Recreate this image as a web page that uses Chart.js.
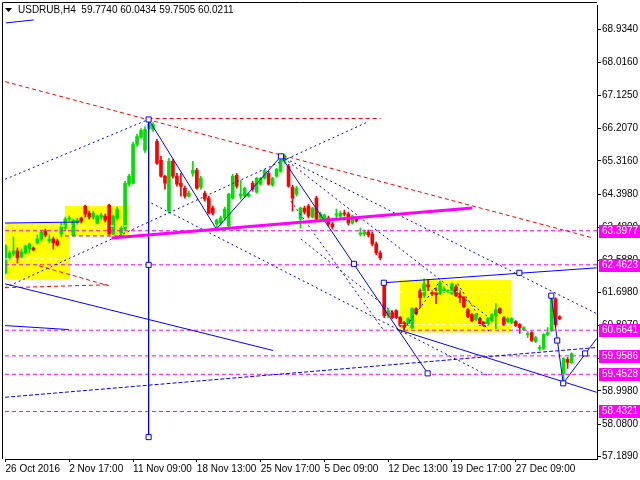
<!DOCTYPE html>
<html>
<head>
<meta charset="utf-8">
<script src="https://cdn.jsdelivr.net/npm/chart.js@4.4.0/dist/chart.umd.min.js"></script>
<style>
  html, body { margin: 0; padding: 0; background: #fff; }
  canvas { display: block; }
</style>
</head>
<body>
<canvas id="usdrubChart" width="640" height="480"></canvas>
<script>
// === Data: x = bar number (H4), y = price ===
const tickBars = [0, 16, 32, 48, 64, 80, 96, 112, 128];
const tickLabels = ['26 Oct 2016', '2 Nov 17:00', '11 Nov 09:00', '18 Nov 13:00', '25 Nov 17:00',
                    '5 Dec 09:00', '12 Dec 13:00', '19 Dec 17:00', '27 Dec 09:00'];
const priceTicks = [68.934, 68.016, 67.125, 66.207, 65.316, 64.398, 63.480, 62.588,
                    61.698, 60.807, 59.889, 58.998, 58.080, 57.189];

const opens = [62.241,62.652,62.761,62.843,62.679,62.788,62.898,62.925,63.062,63.171,
  63.390,63.116,63.171,63.116,63.308,63.472,63.718,63.280,63.636,63.746,
  64.074,63.882,63.773,63.609,63.773,63.800,64.101,63.308,63.746,63.335,
  63.445,64.676,64.703,65.769,65.961,65.605,66.207,66.180,65.852,65.332,
  64.895,63.937,65.304,64.895,64.703,64.566,64.348,64.976,65.058,64.594,
  64.430,64.293,64.019,63.581,63.609,63.746,63.527,64.293,64.922,64.348,
  64.348,64.348,64.703,64.457,64.676,64.840,64.976,64.649,64.895,65.031,
  65.304,65.168,64.594,64.402,63.718,64.019,64.074,63.773,64.293,63.746,
  63.718,63.746,63.581,63.828,63.800,63.882,63.855,63.609,63.718,63.308,
  63.308,63.363,63.308,63.034,62.788,61.968,61.065,61.147,61.202,61.011,
  60.874,60.819,60.737,61.257,61.749,61.612,61.913,61.694,61.694,61.667,
  61.722,61.722,61.667,61.858,61.612,61.558,61.229,61.093,60.956,60.983,
  60.874,60.819,60.928,61.065,61.257,61.011,60.901,60.874,60.901,60.819,
  60.682,60.545,60.600,60.354,60.162,60.162,60.545,60.655,61.530,61.038,
  59.479,59.861,59.774];
const highs = [63.007,62.843,63.226,62.925,62.898,63.007,63.062,62.952,63.280,63.417,
  63.445,63.280,63.226,63.171,63.609,63.773,63.800,63.718,63.746,63.773,
  64.101,63.937,63.937,63.828,63.882,63.855,64.128,63.828,64.046,63.527,
  64.758,64.949,65.824,66.043,66.207,66.262,66.454,66.372,65.906,65.441,
  64.922,65.387,65.359,64.976,64.976,64.621,64.484,65.304,65.113,64.895,
  64.484,64.348,64.074,63.718,63.800,64.046,64.430,64.949,64.976,64.785,
  64.594,64.430,64.758,64.867,64.867,65.086,65.031,64.867,65.113,65.359,
  65.496,65.222,64.649,64.621,64.046,64.074,64.128,64.046,64.348,63.910,
  63.855,63.800,63.636,63.992,63.937,63.964,63.910,63.828,63.746,63.472,
  63.417,63.417,63.363,63.089,62.843,62.023,61.257,61.202,61.229,61.038,
  60.901,61.011,61.284,61.284,61.804,62.077,62.050,61.749,61.831,61.995,
  61.858,61.776,61.968,61.913,61.749,61.585,61.257,61.120,61.120,61.011,
  60.901,61.011,61.120,61.394,61.284,61.038,61.011,61.011,60.928,60.846,
  60.764,60.627,60.627,60.491,60.244,60.573,60.737,61.612,61.558,61.065,
  59.916,59.916,60.0434];
const lows = [62.214,62.624,62.706,62.515,62.624,62.761,62.788,62.843,63.034,63.116,
  63.226,63.062,62.898,62.980,63.226,63.390,63.663,63.253,63.581,63.609,
  63.773,63.718,63.718,63.581,63.718,63.636,63.280,63.280,63.691,63.226,
  63.417,64.621,64.676,65.715,65.934,65.551,66.180,66.125,65.222,64.867,
  64.539,63.882,64.840,64.621,64.348,64.293,64.320,64.895,64.539,64.539,
  64.210,63.855,63.828,63.445,63.554,63.691,63.499,64.265,64.566,64.265,
  64.320,64.320,64.484,64.430,64.649,64.813,64.649,64.621,64.867,65.003,
  65.250,64.594,63.937,64.348,63.472,63.855,63.746,63.746,63.691,63.691,
  63.691,63.527,63.445,63.718,63.746,63.800,63.554,63.581,63.636,63.253,
  63.253,63.226,62.980,62.734,62.597,61.011,61.011,60.983,60.983,60.764,
  60.655,60.792,60.710,61.093,61.284,61.558,61.749,61.612,61.394,61.640,
  61.694,61.694,61.640,61.585,61.421,61.284,61.011,60.901,60.928,60.792,
  60.764,60.792,60.901,60.710,61.120,60.792,60.874,60.846,60.764,60.573,
  60.655,60.463,60.354,60.327,60.108,60.135,60.518,60.627,60.764,60.956,
  59.205,59.615,59.7505];
const closes = [62.980,62.788,62.843,62.652,62.816,62.980,63.034,62.870,63.171,63.363,
  63.280,63.171,63.062,63.007,63.499,63.718,63.746,63.691,63.691,63.663,
  63.855,63.773,63.882,63.800,63.828,63.691,63.308,63.800,63.992,63.472,
  64.703,64.895,65.769,65.988,66.152,66.180,66.317,66.317,65.250,64.895,
  64.703,65.304,64.895,64.676,64.621,64.348,64.430,65.058,64.566,64.840,
  64.265,63.882,63.882,63.691,63.746,63.992,64.402,64.895,64.621,64.402,
  64.566,64.402,64.539,64.840,64.840,65.058,64.676,64.840,65.086,65.332,
  65.441,64.621,64.293,64.566,64.019,63.910,63.800,64.019,63.718,63.855,
  63.828,63.581,63.499,63.855,63.882,63.855,63.609,63.800,63.663,63.335,
  63.363,63.280,63.034,62.788,62.652,61.065,61.202,61.011,61.011,60.792,
  60.737,60.983,61.257,61.120,61.558,61.940,61.858,61.667,61.640,61.968,
  61.804,61.749,61.940,61.612,61.558,61.312,61.038,60.928,61.093,60.819,
  60.792,60.983,61.093,61.229,61.147,60.819,60.983,60.983,60.792,60.737,
  60.737,60.573,60.381,60.463,60.190,60.545,60.600,61.530,60.819,60.983,
  59.889,59.779,60.0211];

// horizontal levels with price tags on the right
const levelPrices = [63.3977, 62.4623, 60.6641, 59.9586, 59.4528, 58.4321];

// === Drawn objects (bar, price) ===
const redDashedLines = [
  [[-0.1, 67.493], [147.4, 63.198]],
  [[35.9, 66.481], [94.1, 66.481]],
  [[-0.1, 61.831], [25.9, 61.913]],
  [[8.4, 62.433], [25.9, 61.886]],
  [[14.9, 63.253], [30.9, 63.253]]
];
const blueDottedLines = [
  [[-0.1, 64.812], [35.9, 66.454]],
  [[-0.1, 61.831], [91.1, 66.399]],
  [[69.1, 65.441], [148.3, 61.120]],
  [[36.6, 64.155], [120.9, 59.424]],
  [[69.9, 65.387], [121.6, 60.983]],
  [[71.6, 64.210], [94.9, 60.655]],
  [[74.1, 63.171], [99.1, 60.983]],
  [[99.1, 60.573], [109.1, 62.023]],
  [[113.4, 61.940], [121.6, 60.573]]
];
const blueDashedLines = [
  [[-0.1, 58.822], [148.3, 60.190]]
];
const blueSolidLines = [
  [[-0.1, 61.940], [67.1, 60.108]],
  [[-0.1, 60.792], [15.9, 60.682]],
  [[-0.1, 63.609], [18.6, 63.636]],
  [[0.1, 69.107], [7.1, 69.189]],
  [[35.9, 66.454], [35.9, 57.728]],
  [[35.9, 66.454], [52.9, 63.445], [69.1, 65.441], [105.9, 59.479]],
  [[94.9, 61.968], [148.3, 62.378]],
  [[98.4, 60.682], [148.3, 58.959]],
  [[136.9, 61.612], [139.9, 59.205], [148.3, 60.436]]
];
const blueMarkers = [
  [35.9, 66.454], [35.9, 62.460], [35.9, 57.728], [69.1, 65.441], [87.4, 62.488],
  [105.9, 59.479], [94.9, 61.968], [128.9, 62.241], [136.9, 61.612], [138.4, 60.381],
  [139.9, 59.205], [145.4, 60.026]
];
const magentaTrend = [[26.6, 63.198], [117.1, 64.019]];
const whiteDashedLines = [
  [[-0.1, 63.527], [30.9, 63.527]],
  [[-0.1, 62.624], [16.6, 62.624]],
  [[98.9, 61.722], [126.9, 61.722]],
  [[98.9, 60.819], [126.9, 60.819]]
];
const boxTops = [
  [[-0.12, 63.609], [18.4, 63.609], [16.1, 62.050]],
  [[14.9, 64.074], [30.9, 64.074]],
  [[98.9, 62.050], [126.9, 62.050]]
];
const boxBottoms = [62.050, 63.253, 60.600];

// === Helpers ===
const X_MIN = -0.125, X_MAX = 148.375;
const BLUE = '#0000ff', RED = '#ff0000', MAGENTA = '#ff00ff', YELLOW = '#ffff00';
const UP = '#00e000', DOWN = '#ff0000';

function lineSet(points, color, dash, width, order) {
  return {
    type: 'line',
    data: points.map(p => ({ x: p[0], y: p[1] })),
    borderColor: color,
    borderWidth: width,
    borderDash: dash,
    pointRadius: 0,
    fill: false,
    tension: 0,
    order: order
  };
}

const candleColors = opens.map((o, i) => closes[i] >= o ? UP : DOWN);

const datasets = [];

// yellow boxes (background)
boxTops.forEach((pts, i) => {
  datasets.push({
    type: 'line',
    data: pts.map(p => ({ x: p[0], y: p[1] })),
    borderColor: 'rgba(0,0,0,0)',
    borderWidth: 0,
    backgroundColor: YELLOW,
    fill: { value: boxBottoms[i] },
    pointRadius: 0,
    order: 30
  });
});

// candles: wicks + bodies
datasets.push({
  type: 'bar',
  data: lows.map((l, i) => ({ x: i, y: [l, highs[i]] })),
  backgroundColor: candleColors,
  barThickness: 1,
  grouped: false,
  minBarLength: 1,
  order: 21
});
datasets.push({
  type: 'bar',
  data: opens.map((o, i) => ({ x: i, y: [o, closes[i]] })),
  backgroundColor: candleColors,
  barThickness: 3,
  grouped: false,
  minBarLength: 1,
  order: 20
});

// level lines
levelPrices.forEach(p => datasets.push(lineSet([[X_MIN, p], [X_MAX, p]], MAGENTA, [4, 3], 1, 5)));

whiteDashedLines.forEach(l => datasets.push(lineSet(l, '#ffffff', [4, 3], 1, 4)));
redDashedLines.forEach(l => datasets.push(lineSet(l, RED, [4, 3], 1, 3)));
blueDottedLines.forEach(l => datasets.push(lineSet(l, BLUE, [2, 3], 1, 3)));
blueDashedLines.forEach(l => datasets.push(lineSet(l, BLUE, [4, 2], 1, 3)));
datasets.push(lineSet(magentaTrend, MAGENTA, [], 3, 2));
blueSolidLines.forEach(l => datasets.push(lineSet(l, BLUE, [], 1, 2)));

datasets.push({
  type: 'scatter',
  data: blueMarkers.map(p => ({ x: p[0], y: p[1] })),
  pointStyle: 'rect',
  pointRadius: 3.6,
  borderColor: BLUE,
  borderWidth: 1,
  backgroundColor: '#ffffff',
  showLine: false,
  order: 1
});

// === Overlay: title, frame, price tags ===
const overlayPlugin = {
  id: 'mt4Overlay',
  afterDraw(chart) {
    const { ctx, chartArea } = chart;
    const yScale = chart.scales.y;
    ctx.save();

    // frame (left + top)
    ctx.strokeStyle = '#000';
    ctx.lineWidth = 1;
    ctx.beginPath();
    ctx.moveTo(2.5, chartArea.bottom);
    ctx.lineTo(2.5, 2.5);
    ctx.lineTo(chartArea.right, 2.5);
    ctx.stroke();

    // price tags
    ctx.font = '10px "Liberation Sans"';
    ctx.textBaseline = 'middle';
    ctx.textAlign = 'left';
    levelPrices.forEach(p => {
      const y = Math.round(yScale.getPixelForValue(p));
      ctx.fillStyle = MAGENTA;
      ctx.fillRect(chartArea.right + 2, y - 6, 640 - chartArea.right - 2, 13);
      ctx.fillStyle = '#ffffff';
      ctx.fillText(p.toFixed(4), chartArea.right + 5, y + 0.5);
    });

    // symbol header
    ctx.fillStyle = '#000';
    ctx.beginPath();
    ctx.moveTo(5, 8);
    ctx.lineTo(12, 8);
    ctx.lineTo(8.5, 12);
    ctx.closePath();
    ctx.fill();
    ctx.fillText('USDRUB,H4  59.7740 60.0434 59.7505 60.0211', 18, 10.5);
    ctx.restore();
  }
};

Chart.defaults.font.family = '"Liberation Sans", Arial, sans-serif';
Chart.defaults.font.size = 10;
Chart.defaults.color = '#000';

new Chart(document.getElementById('usdrubChart').getContext('2d'), {
  type: 'bar',
  data: { datasets: datasets },
  options: {
    responsive: false,
    devicePixelRatio: 1,
    animation: false,
    events: [],
    layout: { padding: { left: 3, top: 3, right: 0, bottom: 0 } },
    plugins: { legend: { display: false }, tooltip: { enabled: false } },
    scales: {
      x: {
        type: 'linear',
        min: X_MIN,
        max: X_MAX,
        offset: false,
        afterBuildTicks: s => { s.ticks = tickBars.map(v => ({ value: v })); },
        afterFit: s => { s.height = 21; s.paddingLeft = 0; s.paddingRight = 0; },
        ticks: {
          autoSkip: false,
          maxRotation: 0,
          minRotation: 0,
          align: 'start',
          padding: 1,
          color: '#000',
          callback: v => tickLabels[tickBars.indexOf(v)]
        },
        grid: { offset: false, drawOnChartArea: false, drawTicks: true, tickLength: 3, color: '#000' },
        border: { color: '#000' }
      },
      y: {
        type: 'linear',
        position: 'right',
        min: 57.126,
        max: 69.599,
        beginAtZero: false,
        afterBuildTicks: s => { s.ticks = priceTicks.map(v => ({ value: v })); },
        afterFit: s => { s.width = 43; s.paddingTop = 0; s.paddingBottom = 0; },
        ticks: {
          padding: 1,
          color: '#000',
          callback: v => v.toFixed(4)
        },
        grid: { drawOnChartArea: false, drawTicks: true, tickLength: 4, color: '#000' },
        border: { color: '#000' }
      }
    }
  },
  plugins: [overlayPlugin]
});
</script>
</body>
</html>
